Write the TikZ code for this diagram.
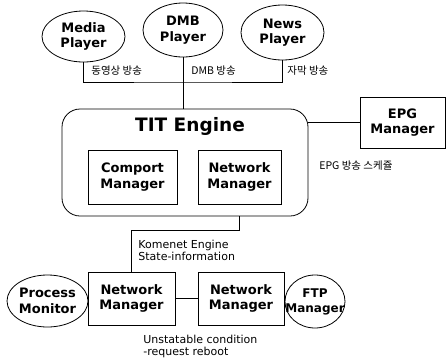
\documentclass[tikz,border=0pt]{standalone}
\usepackage{fontspec}
\setmainfont{DejaVu Sans}
\newfontfamily\krfont{Noto Sans CJK KR}
\usetikzlibrary{shapes.geometric}

\begin{document}
\begin{tikzpicture}[x=1pt,y=-1pt,line width=0.8pt,
		unit/.style={ellipse,draw,inner sep=0pt,align=center,font=\fontsize{13}{15.5}\selectfont\bfseries},
		mgr/.style={rectangle,draw,inner sep=0pt,align=center,minimum width=86,minimum height=54,font=\fontsize{13}{15.5}\selectfont\bfseries},
		note/.style={anchor=west,inner sep=0pt,align=left,font=\fontsize{11}{12}\selectfont},
		krnote/.style={anchor=west,inner sep=0pt,font=\krfont\fontsize{10.5}{12}\selectfont}]
			\useasboundingbox (0,0) rectangle (448,360);

			% players
			\node[unit,minimum width=83,minimum height=51] (media) at (83.5,36.5) {Media\\Player};
			\node[unit,minimum width=80,minimum height=54] (dmb) at (183,30) {DMB\\Player};
			\node[unit,minimum width=83,minimum height=55] (news) at (282.5,32.5) {News\\Player};

			% engine
			\node[draw,rounded corners=18,minimum width=246,minimum height=107] (tit) at (185,162.5) {};
			\node[font=\fontsize{18.5}{22}\selectfont\bfseries] (titname) at (190,126) {TIT Engine};
			\node[mgr,minimum width=89] (comport) at (132.5,177) {Comport\\Manager};
			\node[mgr,minimum width=83] (netin) at (239.5,177) {Network\\Manager};
			\node[mgr,minimum width=85,minimum height=51] (epg) at (402.5,122.5) {EPG\\Manager};

			% lower row
			\node[mgr,minimum width=87,minimum height=53] (nwa) at (131.5,298.5) {Network\\Manager};
			\node[mgr,minimum width=86,minimum height=53] (nwb) at (241,298.5) {Network\\Manager};
			\node[unit,minimum width=81,minimum height=52,inner xsep=-4pt] (procmon) at (47.5,301) {Process\\Monitor};
			\node[unit,minimum width=60,minimum height=53,inner xsep=-16pt,font=\fontsize{12}{15}\selectfont\bfseries] (ftp) at (315,301.5) {FTP\\Manager};

			% links
			\coordinate (bus) at (183,82);
			\draw (media.south) |- (bus) -| (news.south);
			\draw (dmb.south) -- (dmb.south |- tit.north);
			\draw (tit.east |- epg.west) -- (epg.west);
			\draw (tit.south -| netin.south) -- ++(0,14) -| (nwa.north);
			\draw (nwa) -- (nwb);

			\node[krnote] (lbmedia) at (91,71) {동영상 방송};
			\node[krnote] (lbdmb) at (191,71) {DMB 방송};
			\node[krnote] (lbnews) at (287,71) {자막 방송};
			\node[krnote] (lbepg) at (319,166) {EPG 방송 스케쥴};
			\node[note] (lbstate) at (138,250) {Komenet Engine\\State-information};
			\node[note] (lbreboot) at (143,346) {Unstatable condition\\-request reboot};
		\end{tikzpicture}
\end{document}
